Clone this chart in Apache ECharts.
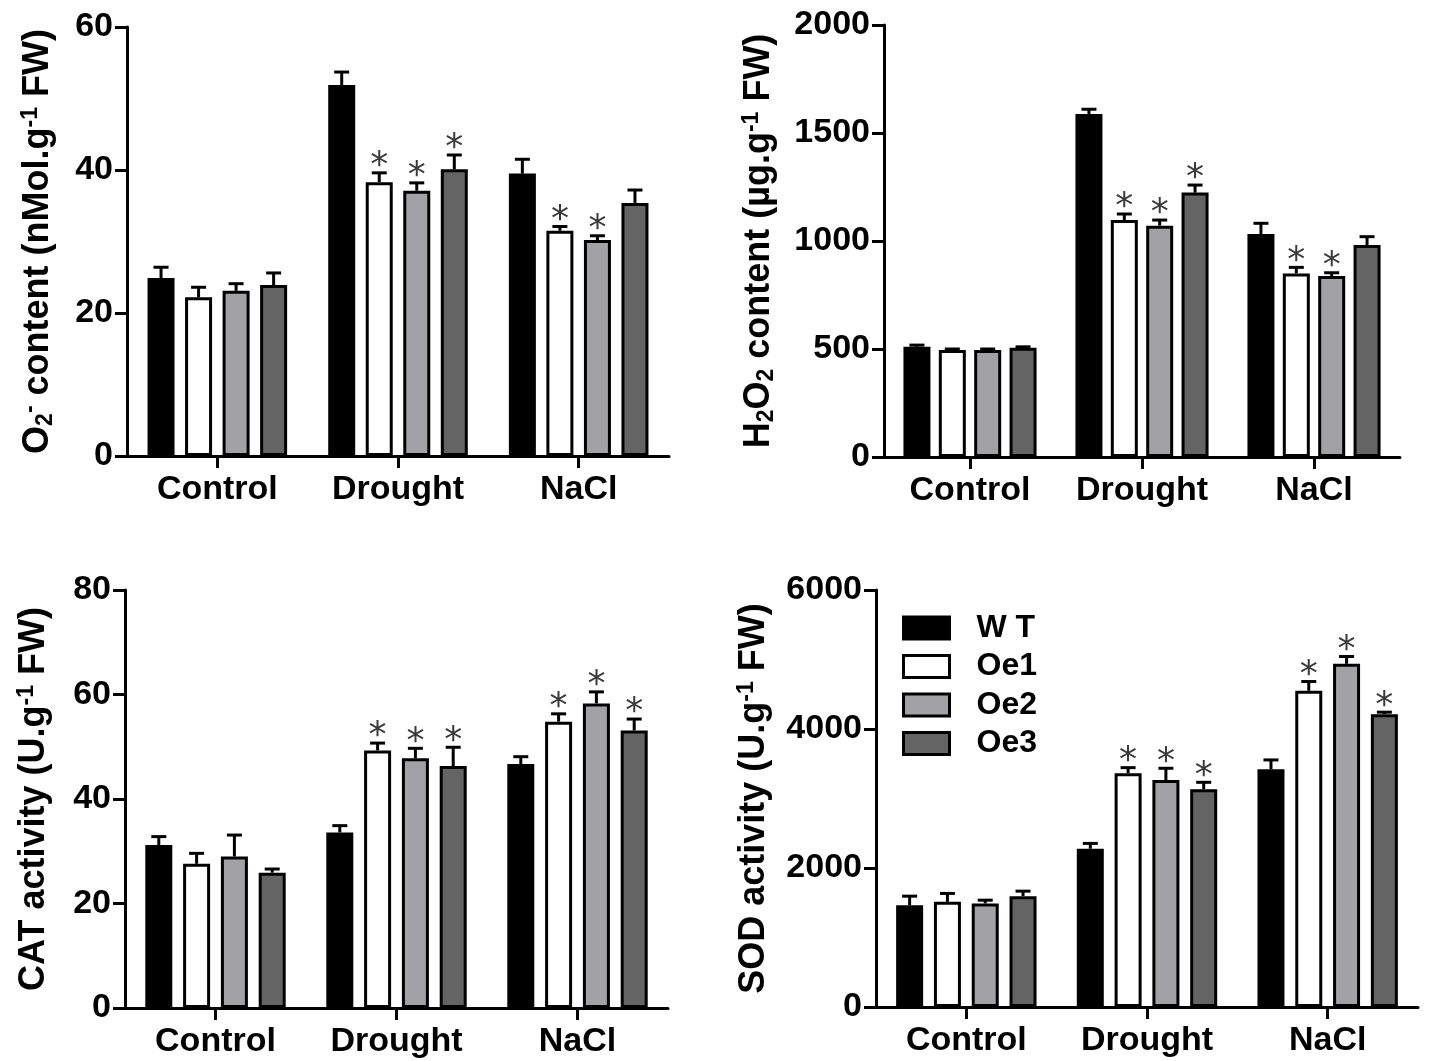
<!DOCTYPE html>
<html><head><meta charset="utf-8">
<script src="https://cdn.jsdelivr.net/npm/echarts@6/dist/echarts.min.js"></script>
<style>html,body{margin:0;padding:0;background:#fff}#c{width:1430px;height:1061px}</style>
</head><body><div id="c"></div>
<script>
// ---------------- data ----------------
const categories = ['Control', 'Drought', 'NaCl'];
const genotypes = ['W T', 'Oe1', 'Oe2', 'Oe3'];

// O2- content (nMol/g FW): rows = WT, Oe1, Oe2, Oe3 ; cols = Control, Drought, NaCl
const o2Mean = [[24.9, 51.9, 39.5], [22.2, 38.3, 31.5], [23.1, 37.1, 30.2], [23.9, 40.1, 35.4]];
const o2Err  = [[1.5, 1.8, 2.0], [1.4, 1.3, 0.6], [1.0, 1.1, 0.6], [1.7, 2.0, 1.8]];
const o2Sig  = [[0, 0, 0], [0, 1, 1], [0, 1, 1], [0, 1, 0]];
const o2Ticks = [0, 20, 40, 60];

// H2O2 content (ug/g FW)
const h2o2Mean = [[510, 1588, 1032], [495, 1097, 850], [495, 1071, 838], [506, 1224, 981]];
const h2o2Err  = [[8, 22, 50], [5, 28, 28], [5, 26, 15], [4, 35, 39]];
const h2o2Sig  = [[0, 0, 0], [0, 1, 1], [0, 1, 1], [0, 1, 0]];
const h2o2Ticks = [0, 500, 1000, 1500, 2000];

// CAT activity (U/g FW)
const catMean = [[31.2, 33.6, 46.7], [27.6, 49.3, 54.8], [29.0, 47.8, 58.3], [25.9, 46.3, 53.1]];
const catErr  = [[1.6, 1.3, 1.4], [2.0, 1.4, 1.5], [4.1, 1.9, 2.2], [0.7, 3.6, 2.2]];
const catSig  = [[0, 0, 0], [0, 1, 1], [0, 1, 1], [0, 1, 1]];
const catTicks = [0, 20, 40, 60, 80];

// SOD activity (U/g FW)
const sodMean = [[1465, 2277, 3421], [1513, 3363, 4549], [1490, 3266, 4938], [1595, 3133, 4213]];
const sodErr  = [[130, 77, 134], [121, 81, 134], [47, 169, 105], [72, 100, 29]];
const sodSig  = [[0, 0, 0], [0, 1, 1], [0, 1, 1], [0, 1, 1]];
const sodTicks = [0, 2000, 4000, 6000];

// ---------------- styling ----------------
const FONT = 'Liberation Sans, Arial, sans-serif';
const fills = ['#000000', '#ffffff', '#a2a2a6', '#646464'];

const panels = [
  { mean: o2Mean, err: o2Err, sig: o2Sig, ticks: o2Ticks,
    grid: { left: 127, top: 27, width: 542, height: 429 },
    title: '{a|O}{sub|2}{sup|-}{a| content (nMol.g}{sup|-1}{a| FW)}', nameGap: 70, bw: 27, gap: 0.39 },
  { mean: h2o2Mean, err: h2o2Err, sig: h2o2Sig, ticks: h2o2Ticks,
    grid: { left: 884, top: 25, width: 516, height: 432 },
    title: '{a|H}{sub|2}{a|O}{sub|2}{a| content (µg.g}{sup|-1}{a| FW)}', nameGap: 106, bw: 27, gap: 0.31 },
  { mean: catMean, err: catErr, sig: catSig, ticks: catTicks,
    grid: { left: 125, top: 590, width: 543, height: 418 },
    title: '{a|CAT activity (U.g}{sup|-1}{a| FW)}', nameGap: 72, bw: 27, gap: 0.40 },
  { mean: sodMean, err: sodErr, sig: sodSig, ticks: sodTicks,
    grid: { left: 876, top: 590, width: 542, height: 417 },
    title: '{a|SOD activity (U.g}{sup|-1}{a| FW)}', nameGap: 103, bw: 27, gap: 0.40 }
];

const grids = [], xAxes = [], yAxes = [], series = [];

panels.forEach((p, pi) => {
  grids.push(Object.assign({ containLabel: false, outerBoundsMode: 'none' }, p.grid));
  xAxes.push({
    type: 'category', gridIndex: pi, data: categories,
    axisLine: { lineStyle: { color: '#000', width: 3 } },
    axisTick: { show: true, alignWithLabel: true, length: 12, lineStyle: { color: '#000', width: 3 } },
    axisLabel: { interval: 0, margin: 17, color: '#000', fontSize: 34, fontWeight: 'bold', fontFamily: FONT },
    splitLine: { show: false }
  });
  const t = p.ticks;
  yAxes.push({
    type: 'value', gridIndex: pi, min: t[0], max: t[t.length - 1], interval: t[1] - t[0],
    axisLine: { show: true, lineStyle: { color: '#000', width: 3 } },
    axisTick: { show: true, length: 12, lineStyle: { color: '#000', width: 3 } },
    axisLabel: { margin: 14, color: '#000', fontSize: 34, fontWeight: 'bold', fontFamily: FONT,
      formatter: v => String(v) },
    splitLine: { show: false },
    name: p.title, nameLocation: 'middle', nameRotate: 90, nameGap: p.nameGap,
    nameTextStyle: {
      rich: {
        a: { fontSize: 36, fontWeight: 'bold', fontFamily: FONT, color: '#000', lineHeight: 38 },
        sub: { fontSize: 23, fontWeight: 'bold', fontFamily: FONT, color: '#000', lineHeight: 12, verticalAlign: 'bottom' },
        sup: { fontSize: 23, fontWeight: 'bold', fontFamily: FONT, color: '#000', lineHeight: 12, verticalAlign: 'top' }
      }
    }
  });
  genotypes.forEach((g, k) => {
    series.push({
      type: 'bar', name: g, xAxisIndex: pi, yAxisIndex: pi,
      data: p.mean[k], barWidth: p.bw, barGap: (p.gap * 100) + '%',
      itemStyle: { color: fills[k], borderColor: '#000', borderWidth: 3 },
      emphasis: { disabled: true }, z: 2
    });
  });
  genotypes.forEach((g, k) => {
    const pitch = p.bw * (1 + p.gap);
    const offset = (k - 1.5) * pitch;
    series.push({
      type: 'custom', name: 'err-' + g, xAxisIndex: pi, yAxisIndex: pi, z: 5, clip: false,
      data: categories.map((c, i) => [i, p.mean[k][i], p.mean[k][i] + p.err[k][i], p.sig[k][i]]),
      renderItem: function (params, api) {
        const c0 = api.coord([api.value(0), api.value(1)]);
        const c1 = api.coord([api.value(0), api.value(2)]);
        const x = c0[0] + offset;
        const ls = { stroke: '#000', lineWidth: 3 };
        const children = [
          { type: 'line', shape: { x1: x, y1: c0[1], x2: x, y2: c1[1] }, style: ls },
          { type: 'line', shape: { x1: x - 7.5, y1: c1[1], x2: x + 7.5, y2: c1[1] }, style: ls }
        ];
        if (api.value(3)) {
          children.push({ type: 'text', style: { text: '*', x: x, y: c1[1] - 6, fill: '#3a3a3a',
            fontSize: 36, fontFamily: 'DejaVu Sans', align: 'center', verticalAlign: 'middle' } });
        }
        return { type: 'group', children: children };
      }
    });
  });
});

const chart = echarts.init(document.getElementById('c'), null, { renderer: 'canvas' });
chart.setOption({
  animation: false,
  backgroundColor: '#fff',
  grid: grids, xAxis: xAxes, yAxis: yAxes, series: series,
  legend: {
    orient: 'vertical', left: 897, top: 607, selectedMode: false,
    itemWidth: 46, itemHeight: 22, itemGap: 6.5, icon: 'rect',
    data: genotypes.map((g, k) => ({ name: g, itemStyle: { color: fills[k], borderColor: '#000', borderWidth: 3 } })),
    textStyle: { fontSize: 32, fontWeight: 'bold', fontFamily: FONT, color: '#000', lineHeight: 30, padding: [0, 0, 0, 22] }
  }
});
</script></body></html>
